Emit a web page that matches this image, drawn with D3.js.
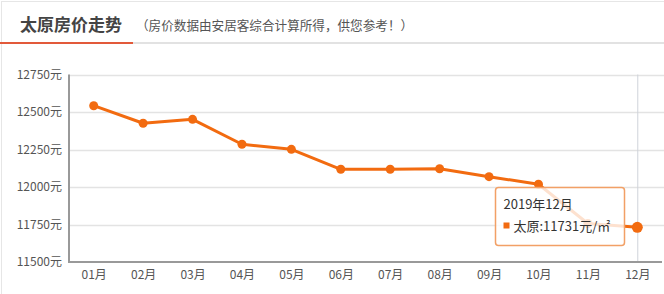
<!DOCTYPE html>
<html>
<head>
<meta charset="utf-8">
<script src="https://cdn.jsdelivr.net/npm/d3@7"></script>
<style>
  body { margin: 0; background: #fff; font-family: "Microsoft YaHei", "Noto Sans CJK SC", sans-serif; }
</style>
</head>
<body>
<div class="priceChart"></div>
<script>
// month labels + price per m2
var months = ["01月", "02月", "03月", "04月", "05月", "06月", "07月", "08月", "09月", "10月", "11月", "12月"];
var prices = [12542, 12425, 12451, 12285, 12251, 12118, 12118, 12122, 12069, 12018, 11757, 11731];
var yTicks = [11500, 11750, 12000, 12250, 12500, 12750];
var hoverIndex = 11;
var hoverTitle = "2019年12月";
var cityName = "太原";

var W = 664, H = 294;
var LINE_COLOR = "#f26b10";

var svg = d3.select(".priceChart").append("svg")
    .attr("width", W)
    .attr("height", H)
    .style("display", "block");

// outer frame
svg.append("rect")
    .attr("x", 1.5).attr("y", 1.5)
    .attr("width", W).attr("height", H)
    .style("fill", "none")
    .style("stroke", "#e6e6e6");

// header
svg.append("text")
    .attr("x", 20).attr("y", 31)
    .style("font-size", "17px")
    .style("font-weight", "bold")
    .style("fill", "#444")
    .text("太原房价走势");
svg.append("text")
    .attr("x", 136).attr("y", 30)
    .style("font-size", "12.6px")
    .style("fill", "#555")
    .text("（房价数据由安居客综合计算所得，供您参考！）");
svg.append("rect")
    .attr("x", 0).attr("y", 42)
    .attr("width", W).attr("height", 2)
    .style("fill", "#e2e2e2");
svg.append("rect")
    .attr("x", 0).attr("y", 42)
    .attr("width", 133).attr("height", 2)
    .style("fill", "#e2593a");

// scales
var plotLeft = 69, plotRight = 662, plotTop = 74.5, plotBottom = 262;
var x = d3.scalePoint().domain(months).range([plotLeft, plotRight]).padding(0.5);
var y = d3.scaleLinear().domain([11500, 12750]).range([plotBottom, plotTop]);

// grid lines
svg.append("g").selectAll("line").data(yTicks.slice(1)).enter()
    .append("line")
    .attr("x1", plotLeft).attr("x2", W)
    .attr("y1", function(d) { return Math.round(y(d)) + 0.5; })
    .attr("y2", function(d) { return Math.round(y(d)) + 0.5; })
    .style("stroke", "#e3e3e3")
    .style("stroke-width", 1.5);

// y axis labels
var yAxis = d3.axisLeft(y).tickValues(yTicks).tickSize(0).tickPadding(7)
    .tickFormat(function(d) { return d + "元"; });
var yg = svg.append("g").attr("transform", "translate(" + plotLeft + ",0)").call(yAxis);
yg.select(".domain").remove();
yg.selectAll("text")
    .style("font-size", "12px")
    .style("font-family", "Microsoft YaHei, Noto Sans CJK SC, sans-serif")
    .style("fill", "#555");

// crosshair at hovered month
svg.append("line")
    .attr("x1", x(months[hoverIndex]) + 0.5).attr("x2", x(months[hoverIndex]) + 0.5)
    .attr("y1", plotTop).attr("y2", plotBottom)
    .style("stroke", "#cfd3da")
    .style("stroke-width", 1);

// axes lines
svg.append("line")
    .attr("x1", plotLeft).attr("x2", plotLeft)
    .attr("y1", plotTop).attr("y2", plotBottom + 1)
    .style("stroke", "#999").style("stroke-width", 2);
svg.append("line")
    .attr("x1", plotLeft - 1).attr("x2", plotRight)
    .attr("y1", plotBottom).attr("y2", plotBottom)
    .style("stroke", "#999").style("stroke-width", 2);

// x axis labels
var xAxis = d3.axisBottom(x).tickSize(0).tickPadding(8);
var xg = svg.append("g").attr("transform", "translate(0," + plotBottom + ")").call(xAxis);
xg.select(".domain").remove();
xg.selectAll("text")
    .style("font-size", "12px")
    .style("font-family", "Microsoft YaHei, Noto Sans CJK SC, sans-serif")
    .style("fill", "#555");

// price line
var line = d3.line()
    .x(function(d, i) { return x(months[i]); })
    .y(function(d) { return y(d); });
svg.append("path")
    .datum(prices)
    .attr("d", line)
    .style("fill", "none")
    .style("stroke", LINE_COLOR)
    .style("stroke-width", 3)
    .style("stroke-linejoin", "round");

svg.append("g").selectAll("circle").data(prices).enter()
    .append("circle")
    .attr("cx", function(d, i) { return x(months[i]); })
    .attr("cy", function(d) { return y(d); })
    .attr("r", function(d, i) { return i === hoverIndex ? 5.5 : 4.5; })
    .style("fill", LINE_COLOR);

// tooltip
var tip = svg.append("g").attr("transform", "translate(495.5,187.5)");
tip.append("rect")
    .attr("width", 129).attr("height", 58)
    .attr("rx", 3)
    .style("fill", "rgba(255,255,255,0.8)")
    .style("stroke", "#f2a066")
    .style("stroke-width", 1.5);
tip.append("text")
    .attr("x", 8).attr("y", 21)
    .style("font-size", "13px")
    .style("fill", "#333")
    .text(hoverTitle);
tip.append("rect")
    .attr("x", 8).attr("y", 35)
    .attr("width", 6).attr("height", 6)
    .style("fill", LINE_COLOR);
tip.append("text")
    .attr("x", 18).attr("y", 43)
    .style("font-size", "13px")
    .style("fill", "#333")
    .text(cityName + ":" + prices[hoverIndex] + "元/㎡");
</script>
</body>
</html>
